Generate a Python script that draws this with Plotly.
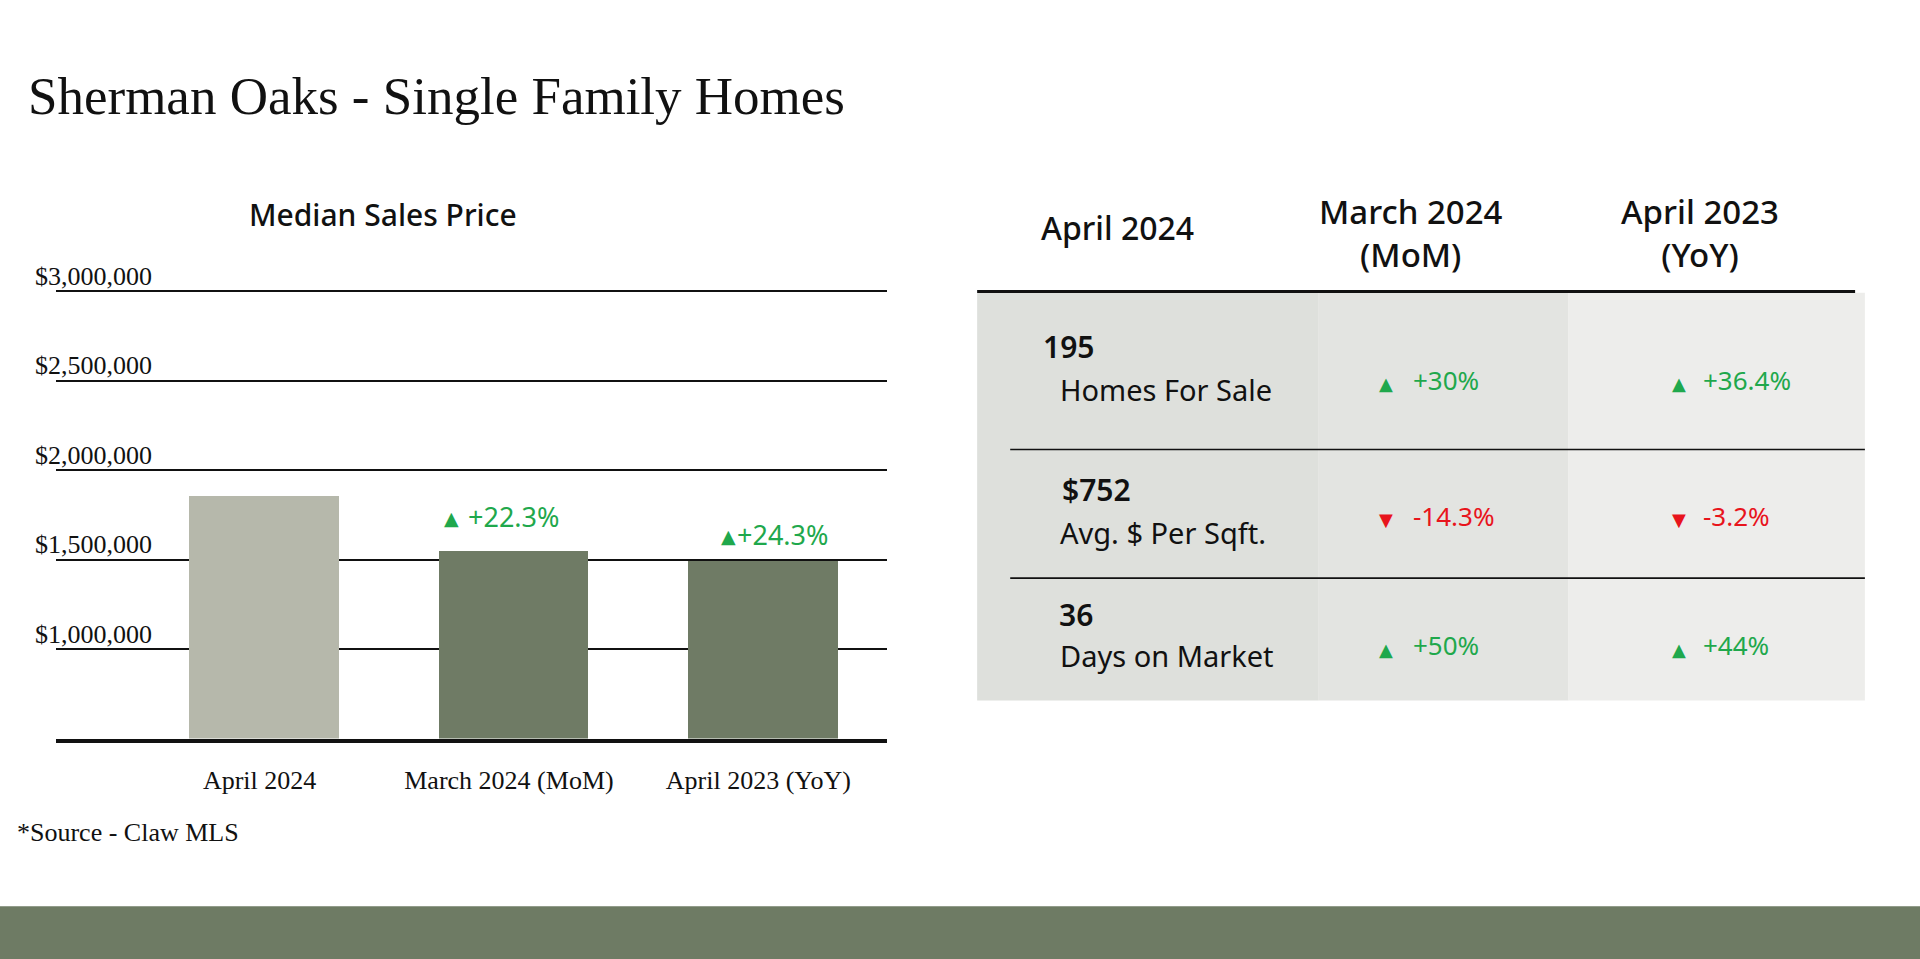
import plotly.graph_objects as go

# ---------------- data ----------------
categories = ["April 2024", "March 2024 (MoM)", "April 2023 (YoY)"]
median_price = [1860000, 1550000, 1495000]
bar_change = [None, "+22.3%", "+24.3%"]
y_tick_vals = [1000000, 1500000, 2000000, 2500000, 3000000]
y_tick_text = ["$1,000,000", "$1,500,000", "$2,000,000", "$2,500,000", "$3,000,000"]

table_headers = ["April 2024", "March 2024<br>(MoM)", "April 2023<br>(YoY)"]
metric_values = ["195", "$752", "36"]
metric_names = ["Homes For Sale", "Avg. $ Per Sqft.", "Days on Market"]
mom_change = ["+30%", "-14.3%", "+50%"]
yoy_change = ["+36.4%", "-3.2%", "+44%"]

# ---------------- layout helpers (reference sketch coords 1568x783) ----------------
W, H = 1920, 959
SW, SH = 1568.0, 783.0


def px(x):
    return x / SW


def py(y):
    return 1 - y / SH


SERIF = "Liberation Serif, Times New Roman, serif"
SANS = "Noto Sans, Lato, sans-serif"
GREEN = "#1FA84C"
RED = "#E8141C"
DARK = "#111111"
BAR_LIGHT = "#B6B8AB"
BAR_DARK = "#6F7B65"

fig = go.Figure()
fig.add_trace(go.Bar(
    x=categories,
    y=median_price,
    width=0.6,
    marker=dict(color=[BAR_LIGHT, BAR_DARK, BAR_DARK], line=dict(width=0)),
    hoverinfo="x+y",
))

annotations = []
shapes = []

# title
annotations.append(dict(text="Sherman Oaks - Single Family Homes", x=px(21), y=py(78),
                        xref="paper", yref="paper", xanchor="left", yanchor="middle",
                        showarrow=False, font=dict(family=SERIF, size=53, color=DARK)))
# chart title
annotations.append(dict(text="Median Sales Price", x=px(313), y=py(175),
                        xref="paper", yref="paper", xanchor="center", yanchor="middle",
                        showarrow=False, font=dict(family=SANS, size=30, color=DARK, weight=500)))
# y tick labels above gridlines
for v, t in zip(y_tick_vals, y_tick_text):
    annotations.append(dict(text=t, x=px(76), y=v, xref="paper", yref="y",
                            xanchor="center", yanchor="middle", yshift=15,
                            showarrow=False, font=dict(family=SERIF, size=26, color=DARK)))

# change labels above bars
tri_shift = [0, -62, -35]
txt_shift = [0, -48, -28]
y_shift = [0, 34, 26]
for i, ch in enumerate(bar_change):
    if not ch:
        continue
    annotations.append(dict(text="▲", x=categories[i], y=median_price[i], xref="x", yref="y",
                            xanchor="center", yanchor="middle", xshift=tri_shift[i], yshift=y_shift[i] - 1,
                            showarrow=False, font=dict(family="DejaVu Sans", size=19, color=GREEN)))
    annotations.append(dict(text=ch, x=categories[i], y=median_price[i], xref="x", yref="y",
                            xanchor="left", yanchor="middle", xshift=txt_shift[i], yshift=y_shift[i],
                            showarrow=False, font=dict(family=SANS, size=27, color=GREEN)))

# source
annotations.append(dict(text="*Source - Claw MLS", x=px(12), y=py(680), xref="paper", yref="paper",
                        xanchor="left", yanchor="middle", showarrow=False,
                        font=dict(family=SERIF, size=26, color=DARK)))

# ---------------- table ----------------
col_bounds = [798, 1077, 1281, 1523]
col_colors = ["#DEE0DC", "#E3E4E1", "#EDEDEB"]
for i in range(3):
    shapes.append(dict(type="rect", xref="paper", yref="paper",
                       x0=px(col_bounds[i]), x1=px(col_bounds[i + 1]), y0=py(572), y1=py(239),
                       fillcolor=col_colors[i], line=dict(width=0), layer="below"))
# header line
shapes.append(dict(type="line", xref="paper", yref="paper", x0=px(798), x1=px(1515),
                   y0=py(238), y1=py(238), line=dict(color=DARK, width=3)))
# row separators
for yy in [367, 472]:
    shapes.append(dict(type="line", xref="paper", yref="paper", x0=px(825), x1=px(1523),
                       y0=py(yy), y1=py(yy), line=dict(color=DARK, width=1.6)))

header_x = [913, 1152, 1388]
header_y = [186, 190, 190]
header_size = [32, 33, 33]
for hx, hy, hs, ht in zip(header_x, header_y, header_size, table_headers):
    annotations.append(dict(text=ht, x=px(hx), y=py(hy), xref="paper", yref="paper",
                            xanchor="center", yanchor="middle", showarrow=False,
                            font=dict(family=SANS, size=hs, color=DARK, weight=500)))

value_x = [850, 866, 863]
value_y = [283, 400, 502]
name_x = [864, 864, 864]
name_y = [318, 435, 535]
pct_y = [310, 421, 527]
for r in range(3):
    annotations.append(dict(text=metric_values[r], x=px(value_x[r]), y=py(value_y[r]),
                            xref="paper", yref="paper", xanchor="left", yanchor="middle",
                            showarrow=False, font=dict(family=SANS, size=30, color=DARK, weight=600)))
    annotations.append(dict(text=metric_names[r], x=px(name_x[r]), y=py(name_y[r]),
                            xref="paper", yref="paper", xanchor="left", yanchor="middle",
                            showarrow=False, font=dict(family=SANS, size=29, color=DARK)))
    for ch, tx, txt_x in [(mom_change[r], 1132, 1152), (yoy_change[r], 1371, 1389)]:
        up = not ch.startswith("-")
        col = GREEN if up else RED
        annotations.append(dict(text="▲" if up else "▼", x=px(tx), y=py(pct_y[r] + 3),
                                xref="paper", yref="paper", xanchor="center", yanchor="middle",
                                showarrow=False, font=dict(family="DejaVu Sans", size=18, color=col)))
        annotations.append(dict(text=ch, x=px(txt_x), y=py(pct_y[r]),
                                xref="paper", yref="paper", xanchor="left", yanchor="middle",
                                showarrow=False, font=dict(family=SANS, size=26, color=col)))

# bottom band
shapes.append(dict(type="rect", xref="paper", yref="paper", x0=0, x1=1, y0=0, y1=py(740),
                   fillcolor="#6E7B64", line=dict(width=0), layer="below"))

# axis geometry: baseline at 500k (y=603), 3M gridline at y=238
y_lo, y_hi = 500000, 3010000
per_px = (3000000 - 500000) / (603 - 238)
top_px = 603 - (y_hi - y_lo) / per_px

fig.update_layout(
    width=W, height=H, autosize=False,
    margin=dict(l=0, r=0, t=0, b=0),
    paper_bgcolor="white", plot_bgcolor="white",
    showlegend=False,
    bargap=0,
    annotations=annotations,
    shapes=shapes,
    xaxis=dict(domain=[px(46), px(724)], range=[-0.835, 2.494], type="category",
               showline=True, linecolor=DARK, linewidth=3.5, showgrid=False, zeroline=False,
               ticks="outside", ticklen=16, tickcolor="rgba(0,0,0,0)", ticklabelshift=-5,
               tickfont=dict(family=SERIF, size=26, color=DARK), fixedrange=True),
    yaxis=dict(domain=[py(603), py(top_px)], range=[y_lo, y_hi],
               tickvals=y_tick_vals, showticklabels=False, showgrid=True,
               gridcolor=DARK, gridwidth=1.5, zeroline=False, showline=False, fixedrange=True),
)

fig.write_html("out.html", config={"displayModeBar": False},
               post_script="document.body.style.margin='0px';document.body.style.overflow='hidden';")
